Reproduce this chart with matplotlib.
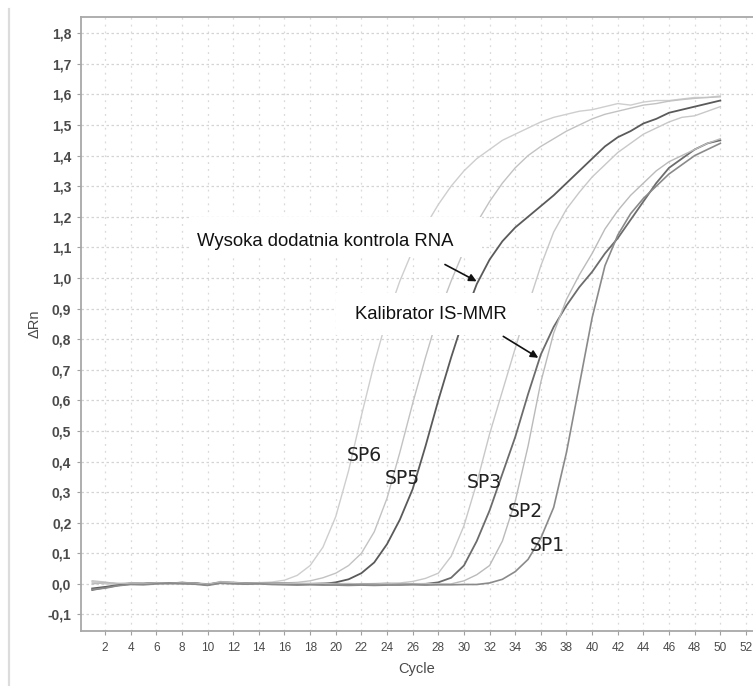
import matplotlib
matplotlib.use("Agg")
import matplotlib.pyplot as plt
from matplotlib.patches import Rectangle
from matplotlib.lines import Line2D
from matplotlib.ticker import FuncFormatter, FixedLocator

# ---------------- data ----------------
cycles = list(range(1, 51))

sp6 = [0.005, 0.0, -0.002, 0.003, 0.0, 0.004, 0.002, 0.005, 0.003, -0.004,
       0.008, 0.003, 0.002, 0.004, 0.006, 0.012, 0.028, 0.06, 0.12, 0.22,
       0.37, 0.55, 0.72, 0.87, 0.99, 1.09, 1.17, 1.24, 1.30, 1.35,
       1.39, 1.42, 1.45, 1.47, 1.49, 1.51, 1.525, 1.535, 1.545, 1.55,
       1.56, 1.57, 1.565, 1.575, 1.58, 1.58, 1.585, 1.59, 1.59, 1.595]

sp5 = [0.01, 0.006, 0.0, 0.002, 0.001, 0.003, 0.004, 0.002, 0.004, 0.0,
       0.006, 0.004, 0.002, 0.003, 0.002, 0.003, 0.005, 0.01, 0.02, 0.035,
       0.06, 0.10, 0.17, 0.28, 0.43, 0.59, 0.74, 0.88, 0.99, 1.09,
       1.18, 1.25, 1.31, 1.36, 1.40, 1.43, 1.455, 1.48, 1.50, 1.52,
       1.535, 1.545, 1.555, 1.565, 1.57, 1.578, 1.583, 1.587, 1.59, 1.592]

wysoka = [-0.015, -0.01, -0.004, 0.002, 0.0, 0.003, 0.002, 0.004, 0.002, -0.003,
          0.005, 0.004, 0.002, 0.003, 0.002, 0.001, 0.0, 0.0, 0.0, 0.005,
          0.015, 0.035, 0.07, 0.13, 0.21, 0.31, 0.45, 0.60, 0.74, 0.87,
          0.98, 1.06, 1.12, 1.165, 1.20, 1.235, 1.27, 1.31, 1.35, 1.39,
          1.43, 1.46, 1.48, 1.505, 1.52, 1.54, 1.55, 1.56, 1.57, 1.58]

sp3 = [0.008, 0.004, 0.0, 0.003, 0.002, 0.004, 0.003, 0.004, 0.003, -0.002,
       0.007, 0.005, 0.003, 0.004, 0.003, 0.002, 0.002, 0.001, 0.002, 0.001,
       0.001, 0.0, 0.001, 0.0, 0.003, 0.008, 0.018, 0.035, 0.09, 0.19,
       0.33, 0.49, 0.63, 0.77, 0.91, 1.04, 1.15, 1.225, 1.28, 1.33,
       1.37, 1.41, 1.44, 1.47, 1.49, 1.51, 1.525, 1.53, 1.545, 1.56]

kalibrator = [-0.02, -0.012, -0.005, 0.0, 0.001, 0.002, 0.003, 0.003, 0.002, -0.002,
              0.004, 0.003, 0.002, 0.002, 0.001, 0.001, 0.0, 0.0, 0.001, 0.0,
              -0.001, 0.0, 0.0, 0.001, 0.0, 0.0, 0.0, 0.005, 0.02, 0.06,
              0.14, 0.24, 0.36, 0.48, 0.62, 0.75, 0.84, 0.91, 0.97, 1.02,
              1.08, 1.13, 1.19, 1.25, 1.31, 1.36, 1.39, 1.42, 1.44, 1.45]

sp2 = [0.0, 0.004, 0.002, 0.001, 0.0, 0.003, 0.002, 0.003, 0.002, -0.001,
       0.005, 0.004, 0.002, 0.003, 0.002, 0.002, 0.001, 0.001, 0.001, 0.0,
       0.001, 0.0, 0.0, 0.001, 0.0, 0.0, 0.001, 0.0, 0.0, 0.01,
       0.03, 0.06, 0.14, 0.27, 0.45, 0.66, 0.82, 0.93, 1.01, 1.08,
       1.16, 1.22, 1.27, 1.31, 1.35, 1.38, 1.40, 1.42, 1.44, 1.455]

sp1 = [-0.018, -0.014, -0.006, -0.002, -0.003, 0.0, 0.001, 0.0, -0.001, -0.005,
       0.002, 0.0, -0.001, 0.0, -0.002, -0.003, -0.004, -0.003, -0.004, -0.004,
       -0.005, -0.004, -0.005, -0.004, -0.004, -0.003, -0.004, -0.003, -0.003, -0.002,
       -0.002, 0.003, 0.015, 0.04, 0.08, 0.15, 0.25, 0.43, 0.65, 0.87,
       1.04, 1.14, 1.21, 1.26, 1.30, 1.34, 1.37, 1.40, 1.42, 1.44]

series_names = ["SP6", "SP5", "Wysoka", "SP3", "Kalibrator", "SP2", "SP1"]
series_values = [sp6, sp5, wysoka, sp3, kalibrator, sp2, sp1]
series_colors = ["#cecece", "#c2c2c2", "#5a5a5a", "#c8c8c8", "#6c6c6c", "#bababa", "#8a8a8a"]
series_widths = [1.0, 1.0, 1.3, 1.0, 1.3, 1.0, 1.2]

x_ticks = list(range(2, 53, 2))
y_ticks = [round(-0.1 + 0.1 * i, 1) for i in range(20)]

sp_labels = ["SP6", "SP5", "SP3", "SP2", "SP1"]
sp_label_x = [22.2, 25.2, 31.6, 34.8, 36.5]
sp_label_y = [0.419, 0.344, 0.330, 0.236, 0.124]

text_wysoka = "Wysoka dodatnia kontrola RNA"
text_kalib = "Kalibrator IS-MMR"

# ---------------- figure ----------------
fig = plt.figure(figsize=(7.53, 6.86), dpi=100)
fig.patch.set_facecolor("white")

# screenshot border line at left
fig.add_artist(Line2D([0.012, 0.012], [0.0, 0.987], transform=fig.transFigure,
                      color="#dcdcdc", lw=1.6))

ax = fig.add_axes([81 / 753, (686 - 631) / 686, 1 - 81 / 753, (631 - 17) / 686])
ax.set_xlim(0.125, 52.55)
ax.set_ylim(-0.154, 1.853)

for name, vals, col, w in zip(series_names, series_values, series_colors, series_widths):
    ax.plot(cycles, vals, color=col, lw=w, zorder=2, solid_joinstyle="round")

# grid
ax.xaxis.set_major_locator(FixedLocator(x_ticks))
ax.yaxis.set_major_locator(FixedLocator(y_ticks))
ax.grid(axis="y", color="#d4d4d4", lw=0.9, linestyle=(0, (2, 2)), zorder=0)
ax.grid(axis="x", color="#dadada", lw=0.9, linestyle=(0, (1.5, 4)), zorder=0)
ax.set_axisbelow(True)

ax.yaxis.set_major_formatter(FuncFormatter(lambda v, p: f"{v:.1f}".replace(".", ",").replace("-0,0", "0,0")))
ax.xaxis.set_major_formatter(FuncFormatter(lambda v, p: f"{int(v)}"))

for s in ["left", "bottom", "top"]:
    ax.spines[s].set_color("#a8a8a8")
    ax.spines[s].set_linewidth(1.3)
ax.spines["right"].set_visible(False)

ax.tick_params(axis="y", length=3, width=0.8, color="#a0a0a0", pad=4,
               labelsize=10, labelcolor="#4a4a4a")
ax.tick_params(axis="x", length=3, width=0.8, color="#a0a0a0", pad=5,
               labelsize=8.5, labelcolor="#4a4a4a")
for lab in ax.get_yticklabels():
    lab.set_family(["Liberation Sans", "DejaVu Sans"])
    lab.set_fontweight("bold")
for lab in ax.get_xticklabels():
    lab.set_family(["Liberation Sans Narrow", "Liberation Sans", "DejaVu Sans"])

ax.set_ylabel("ΔRn", fontsize=10.5, color="#4a4a4a", family=["Liberation Sans", "DejaVu Sans"], labelpad=4)
ax.set_xlabel("Cycle", fontsize=10.5, color="#4a4a4a", family=["Liberation Sans Narrow", "Liberation Sans", "DejaVu Sans"], labelpad=6)

# white label boxes (cover curves and grid)
ax.add_patch(Rectangle((8.64, 1.067), 31.4 - 8.64, 1.198 - 1.067, facecolor="white",
                       edgecolor="none", zorder=3))
ax.add_patch(Rectangle((20.0, 0.815), 35.7 - 20.0, 0.952 - 0.815, facecolor="white",
                       edgecolor="none", zorder=3))

ax.text(9.17, 1.12, text_wysoka, fontsize=13.3, color="#111111", ha="left", va="center",
        family=["Liberation Sans", "DejaVu Sans"], zorder=4)
ax.text(21.5, 0.88, text_kalib, fontsize=13.3, color="#111111", ha="left", va="center",
        family=["Liberation Sans", "DejaVu Sans"], zorder=4)

ax.annotate("", xy=(30.99, 0.989), xytext=(28.52, 1.044),
            arrowprops=dict(arrowstyle="-|>", color="#111111", lw=1.2, mutation_scale=11,
                            shrinkA=0, shrinkB=0), zorder=5)
ax.annotate("", xy=(35.80, 0.739), xytext=(33.07, 0.809),
            arrowprops=dict(arrowstyle="-|>", color="#111111", lw=1.2, mutation_scale=11,
                            shrinkA=0, shrinkB=0), zorder=5)

for lab, lx, ly in zip(sp_labels, sp_label_x, sp_label_y):
    ax.text(lx, ly, lab, fontsize=13.5, color="#222222", ha="center", va="center",
            family=["DejaVu Sans"], zorder=4)

fig.savefig("out.png", dpi=100, facecolor="white")
